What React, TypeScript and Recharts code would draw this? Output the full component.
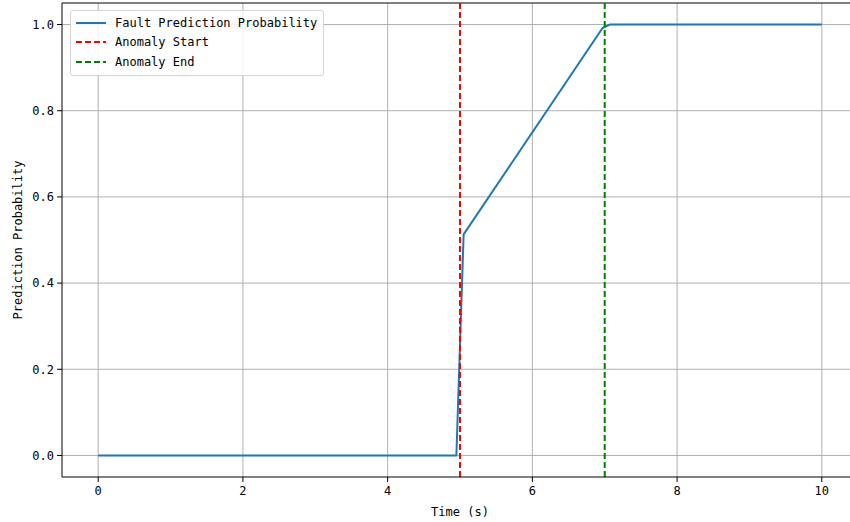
import React from "react";
import {
  LineChart, Line, XAxis, YAxis, CartesianGrid, ReferenceLine
} from "recharts";

const timeS = [0, 4.95, 5.05, 6.97, 7.07, 10];
const probability = [0, 0, 0.513, 0.992, 1.0, 1.0];
const xTicks = [0, 2, 4, 6, 8, 10];
const yTicks = [0, 0.2, 0.4, 0.6, 0.8, 1.0];
const anomalyStart = 5;
const anomalyEnd = 7;

const legendItems = [
  { name: "Fault Prediction Probability", color: "#1f77b4", dash: "" },
  { name: "Anomaly Start", color: "#ff0000", dash: "6 3" },
  { name: "Anomaly End", color: "#008000", dash: "6 3" },
];

const data = timeS.map((t, i) => ({ t, p: probability[i] }));

const FONT = "'DejaVu Sans Mono', monospace";
const tickStyle = { fontSize: 12, fill: "#000", fontFamily: FONT };

function LegendBox() {
  return (
    <div style={{
      position: "absolute", left: 70, top: 10, width: 252, padding: "2px 0 3px 0",
      border: "1px solid #d5d5d5", borderRadius: 3, background: "rgba(255,255,255,0.85)",
      fontFamily: FONT, fontSize: 12, color: "#000", whiteSpace: "nowrap",
    }}>
      {legendItems.map((it) => (
        <div key={it.name} style={{ display: "flex", alignItems: "center", height: 19.5 }}>
          <svg width={40} height={10} style={{ marginLeft: 4, flex: "none" }}>
            <line x1={1} y1={5} x2={31} y2={5} stroke={it.color} strokeWidth={2}
              strokeDasharray={it.dash || undefined} />
          </svg>
          <span>{it.name}</span>
        </div>
      ))}
    </div>
  );
}

export default function App() {
  return (
    <div style={{ position: "fixed", left: 0, top: 0, width: 850, height: 522, overflow: "hidden", background: "#fff" }}>
      <LineChart width={880} height={522} data={data} margin={{ top: 3, right: 22, bottom: 0, left: 0 }}>
        <CartesianGrid stroke="#b0b0b0" strokeWidth={1} horizontalValues={yTicks} verticalValues={xTicks} />
        <XAxis dataKey="t" type="number" domain={[-0.5, 10.5]} ticks={xTicks} height={45}
          tick={tickStyle} tickSize={5} tickMargin={4} stroke="#000" allowDataOverflow
          label={{ value: "Time (s)", position: "insideBottom", offset: 6, style: { fontSize: 12, fill: "#000", fontFamily: FONT } }} />
        <YAxis type="number" domain={[-0.05, 1.05]} ticks={yTicks} width={62}
          tick={tickStyle} tickSize={5} tickMargin={3} stroke="#000" allowDataOverflow
          tickFormatter={(v: number) => v.toFixed(1)}
          label={{ value: "Prediction Probability", angle: -90, position: "insideLeft", offset: 18, style: { fontSize: 12, fill: "#000", fontFamily: FONT, textAnchor: "middle" } }} />
        <ReferenceLine y={1.05} stroke="#000" strokeWidth={1} />
        <Line type="linear" dataKey="p" stroke="#1f77b4" strokeWidth={2} dot={false} isAnimationActive={false} />
        <ReferenceLine x={anomalyStart} stroke="#ff0000" strokeWidth={2} strokeDasharray="6 3" />
        <ReferenceLine x={anomalyEnd} stroke="#008000" strokeWidth={2} strokeDasharray="6 3" />
      </LineChart>
      <LegendBox />
    </div>
  );
}
